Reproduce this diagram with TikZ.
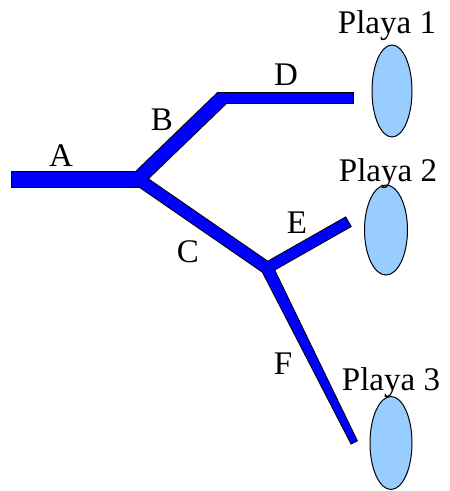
\documentclass[tikz,border=0pt]{standalone}
\usepackage{fontspec}
\setmainfont{Liberation Serif}
\usetikzlibrary{calc, shapes.geometric}
\definecolor{pipeblue}{RGB}{0,0,255}
\definecolor{lagoon}{RGB}{153,204,255}
% a straight pipe piece from #1 to #2, half widths #3 and #4
\newcommand{\tube}[4]{($(#1)!#3!90:(#2)$) -- ($(#2)!#4!-90:(#1)$) -- ($(#2)!#4!90:(#1)$) -- ($(#1)!#3!-90:(#2)$) -- cycle}

\begin{document}
\begin{tikzpicture}[x=1pt, y=-1pt,
  pipeedge/.style={draw=black, line width=2pt, line join=miter},
  pipefill/.style={fill=pipeblue},
  playa/.style={ellipse, draw=black, line width=1pt, fill=lagoon, inner sep=0pt},
  lbl/.style={font=\fontsize{33}{36}\selectfont, anchor=base, inner sep=0pt}]
  \useasboundingbox (0,0) rectangle (450,491);

  % junctions and ends of the pipes
  \coordinate (aL)   at (12,179);
  \coordinate (j1)   at (138,179);
  \coordinate (bend) at (222,98);
  \coordinate (dL)   at (218,98);
  \coordinate (dR)   at (353,98);
  \coordinate (j2)   at (267,268);
  \coordinate (eR)   at (348,222);
  \coordinate (fB)   at (354,442);

  % black rim first, then the blue over it
  \foreach \s/\t/\u/\v in {aL/j1/7.5pt/7.5pt, j1/bend/6.5pt/6.5pt, dL/dR/5pt/5pt,
                           j1/j2/5.5pt/5.5pt, j2/eR/5pt/5pt, j2/fB/5.5pt/3pt}
    \draw[pipeedge] \tube{\s}{\t}{\u}{\v};
  \foreach \s/\t/\u/\v in {aL/j1/7.5pt/7.5pt, j1/bend/6.5pt/6.5pt, dL/dR/5pt/5pt,
                           j1/j2/5.5pt/5.5pt, j2/eR/5pt/5pt, j2/fB/5.5pt/3pt}
    \fill[pipefill] \tube{\s}{\t}{\u}{\v};

  % beaches
  \node[playa, minimum width=40pt, minimum height=92pt] (p1) at (392,91) {};
  \node[playa, minimum width=43pt, minimum height=90pt] (p2) at (386,230) {};
  \node[playa, minimum width=42pt, minimum height=93pt] (p3) at (391,443) {};

  % labels
  \node[lbl] (la) at (61,166) {A};
  \node[lbl] (lb) at (162,130) {B};
  \node[lbl] (lc) at (188,262) {C};
  \node[lbl] (ld) at (286,85) {D};
  \node[lbl] (le) at (297,233) {E};
  \node[lbl] (lf) at (283,374) {F};
  \node[lbl] (lp1) at (387,33) {Playa 1};
  \node[lbl] (lp2) at (388,181) {Playa 2};
  \node[lbl] (lp3) at (391,390) {Playa 3};
\end{tikzpicture}
\end{document}
